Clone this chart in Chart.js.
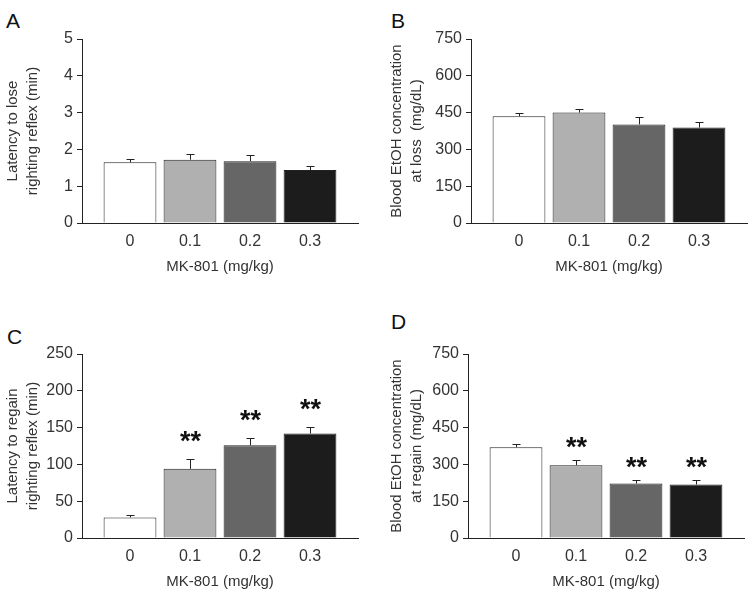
<!DOCTYPE html>
<html>
<head>
<meta charset="utf-8">
<script src="https://cdn.jsdelivr.net/npm/chart.js@4.4.1/dist/chart.umd.min.js"></script>
<style>
    body { margin: 0; background: #fff; }
    #fig { position: relative; width: 752px; height: 595px; font-family: 'Liberation Sans', Arial, sans-serif; }
    #fig canvas { position: absolute; }
    .letter { position: absolute; font-size: 21px; line-height: 21px; color: #111; }
</style>
</head>
<body>
<div id="fig">
    <div class="letter" style="left:6px; top:10px;">A</div>
    <div class="letter" style="left:391px; top:10px;">B</div>
    <div class="letter" style="left:7px; top:326px;">C</div>
    <div class="letter" style="left:391px; top:311px;">D</div>
    <canvas id="chartA" width="376" height="297" style="left:0; top:0;"></canvas>
    <canvas id="chartB" width="376" height="297" style="left:376px; top:0;"></canvas>
    <canvas id="chartC" width="376" height="297" style="left:0; top:297px;"></canvas>
    <canvas id="chartD" width="376" height="297" style="left:376px; top:297px;"></canvas>
</div>
<script>
// --- Data ---
const doses = ['0', '0.1', '0.2', '0.3'];
const barColors = ['#ffffff', '#b0b0b0', '#666666', '#1c1c1c'];

const loseLatency = [1.65, 1.72, 1.68, 1.44];
const loseLatencyErr = [0.08, 0.16, 0.16, 0.11];

const loseBEC = [435, 450, 402, 389];
const loseBECErr = [15, 13, 30, 22];

const regainLatency = [28, 94, 126, 142];
const regainLatencyErr = [3, 13, 10, 9];
const regainLatencySig = ['', '**', '**', '**'];

const regainBEC = [370, 297, 222, 218];
const regainBECErr = [12, 20, 16, 17];
const regainBECSig = ['', '**', '**', '**'];

const FONT = "'Liberation Sans', Arial, sans-serif";
const INK = '#222';

// error bars (upper only) + significance stars
function errorPlugin(errs, sig, starGap) {
    return {
        id: 'errorBars',
        afterDatasetsDraw(chart) {
            const { ctx, scales: { x, y } } = chart;
            const vals = chart.data.datasets[0].data;
            ctx.save();
            ctx.strokeStyle = INK;
            ctx.lineWidth = 1;
            vals.forEach((pt, i) => {
                const px = Math.round(x.getPixelForValue(pt.x)) + 0.5;
                const y0 = y.getPixelForValue(pt.y);
                const y1 = Math.round(y.getPixelForValue(pt.y + errs[i])) + 0.5;
                ctx.beginPath();
                ctx.moveTo(px, y0);
                ctx.lineTo(px, y1);
                ctx.moveTo(px - 4, y1);
                ctx.lineTo(px + 4, y1);
                ctx.stroke();
                if (sig && sig[i]) {
                    ctx.fillStyle = '#111';
                    ctx.font = 'bold 27px ' + FONT;
                    ctx.textAlign = 'center';
                    ctx.textBaseline = 'middle';
                    ctx.fillText(sig[i], px, y1 - starGap);
                }
            });
            ctx.restore();
        }
    };
}

function makePanel(id, p) {
    const ctx = document.getElementById(id).getContext('2d');
    const lineH = 20;
    return new Chart(ctx, {
        type: 'bar',
        data: {
            datasets: [{
                data: p.values.map((v, i) => ({ x: i, y: v })),
                backgroundColor: barColors,
                borderColor: INK,
                borderWidth: 1,
                barPercentage: 0.88,
                categoryPercentage: 1
            }]
        },
        options: {
            responsive: false,
            animation: false,
            layout: { padding: { top: p.box.top, right: 376 - p.box.right, bottom: 0, left: 0 } },
            plugins: { legend: { display: false }, tooltip: { enabled: false } },
            scales: {
                x: {
                    type: 'linear',
                    offset: false,
                    min: -0.8,
                    max: 3.8,
                    afterBuildTicks: (s) => { s.ticks = doses.map((d, i) => ({ value: i })); },
                    afterFit: (s) => { s.height = 297 - p.box.bottom; },
                    grid: { display: false, drawTicks: false },
                    border: { display: true, color: INK, width: 1 },
                    ticks: {
                        callback: (v) => doses[v],
                        font: { family: FONT, size: 16 },
                        color: '#333',
                        padding: 9,
                        maxRotation: 0
                    },
                    title: {
                        display: true,
                        text: 'MK-801 (mg/kg)',
                        font: { family: FONT, size: 15 },
                        color: '#333',
                        padding: { top: 0, bottom: 297 - (p.box.bottom + 44) - 9 }
                    }
                },
                y: {
                    min: 0,
                    max: p.max,
                    afterFit: (s) => { s.width = p.box.left; },
                    ticks: {
                        stepSize: p.step,
                        font: { family: FONT, size: 16 },
                        color: '#333',
                        padding: 4
                    },
                    grid: { display: true, drawOnChartArea: false, drawTicks: true, tickLength: 5, color: INK },
                    border: { display: true, color: INK, width: 1 },
                    title: {
                        display: true,
                        text: p.title,
                        font: { family: FONT, size: 15, lineHeight: lineH / 15 },
                        color: '#333',
                        padding: { top: p.titleX - lineH / 2, bottom: 0 }
                    }
                }
            }
        },
        plugins: [errorPlugin(p.errs, p.sig, p.starGap)]
    });
}

makePanel('chartA', {
    values: loseLatency, errs: loseLatencyErr, max: 5, step: 1,
    title: ['Latency to lose', 'righting reflex (min)'], titleX: 13,
    box: { left: 82, right: 358, top: 39, bottom: 223 }
});
makePanel('chartB', {
    values: loseBEC, errs: loseBECErr, max: 750, step: 150,
    title: ['Blood EtOH concentration', 'at loss  (mg/dL)'], titleX: 21,
    box: { left: 95, right: 371, top: 39, bottom: 223 }
});
makePanel('chartC', {
    values: regainLatency, errs: regainLatencyErr, sig: regainLatencySig, starGap: 17, max: 250, step: 50,
    title: ['Latency to regain', 'righting reflex (min)'], titleX: 13,
    box: { left: 82, right: 358, top: 57, bottom: 241 }
});
makePanel('chartD', {
    values: regainBEC, errs: regainBECErr, sig: regainBECSig, starGap: 12, max: 750, step: 150,
    title: ['Blood EtOH concentration', 'at regain (mg/dL)'], titleX: 21,
    box: { left: 92, right: 368, top: 57, bottom: 241 }
});
</script>
</body>
</html>
